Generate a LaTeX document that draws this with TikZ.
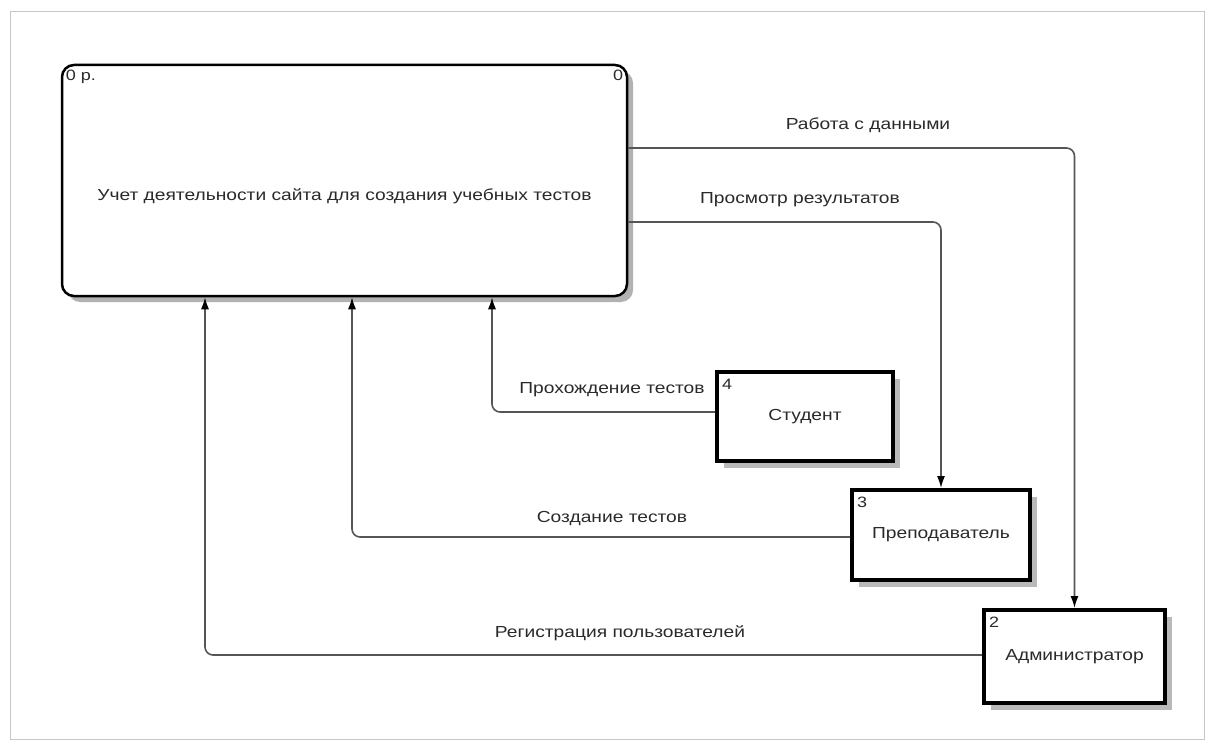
\documentclass[tikz,border=0pt]{standalone}
\usepackage{fontspec}
\setmainfont{Liberation Sans}[FakeStretch=1.2]
\usetikzlibrary{arrows.meta,shadows,calc}
\definecolor{txt}{HTML}{2a2a2a}
\definecolor{ln}{HTML}{555555}
\begin{document}
\begin{tikzpicture}[x=1pt,y=-1pt,
  font=\fontsize{16}{18}\selectfont, text=txt,
  every label/.style={font=\fontsize{15}{16}\selectfont, text=txt, inner xsep=5pt, inner ysep=6pt},
  numlbl/.style={inner xsep=7pt, inner ysep=9pt},
  mainbox/.style={draw=black, line width=2.5pt, rounded corners=12pt, fill=white,
    minimum width=565pt, minimum height=231pt,
    drop shadow={shadow xshift=6pt, shadow yshift=-6pt, fill=gray!60, opacity=1}},
  ext/.style={draw=black, line width=4pt, fill=white, inner sep=0pt,
    drop shadow={shadow xshift=7pt, shadow yshift=-7pt, fill=gray!55, opacity=1}},
  flow/.style={draw=ln, line width=1.6pt, rounded corners=8pt,
    -{Latex[length=12pt,width=8pt,color=black]}},
  lbl/.style={inner sep=0pt, anchor=center}]
\useasboundingbox (0,0) rectangle (1215,749);
\draw[gray!45, line width=1pt] (10,12) rectangle (1204,739);

\node[mainbox,
  label={[anchor=north west]north west:0 р.},
  label={[anchor=north east]north east:0}] (main) at (344.5,180.5)
  {\raisebox{-20pt}[0pt][0pt]{Учет деятельности сайта для создания учебных тестов}};

\node[ext, minimum width=176pt, minimum height=89pt,
  label={[numlbl, anchor=north west]north west:4}] (stud) at (805,416.5) {Студент};
\node[ext, minimum width=178pt, minimum height=90pt,
  label={[numlbl, anchor=north west]north west:3}] (prep) at (941,535) {Преподаватель};
\node[ext, minimum width=181pt, minimum height=93pt,
  label={[numlbl, anchor=north west]north west:2}] (admin) at (1074.5,656.5) {Администратор};

\draw[flow] ([yshift=32.5pt]main.east) -| (admin.north);
\draw[flow] ([yshift=-41.5pt]main.east) -| (prep.north);
\draw[flow] ([yshift=4.5pt]stud.west) -| ([xshift=147.5pt]main.south);
\draw[flow] ([yshift=-2pt]prep.west) -| ([xshift=7.5pt]main.south);
\draw[flow] ([yshift=1.5pt]admin.west) -| ([xshift=-139.5pt]main.south);

\node[lbl] (l1) at (868,125) {Работа с данными};
\node[lbl] (l2) at (800,200) {Просмотр результатов};
\node[lbl] (l3) at (612,390) {Прохождение тестов};
\node[lbl] (l4) at (612,519) {Создание тестов};
\node[lbl] (l5) at (620,633) {Регистрация пользователей};
\end{tikzpicture}
\end{document}
